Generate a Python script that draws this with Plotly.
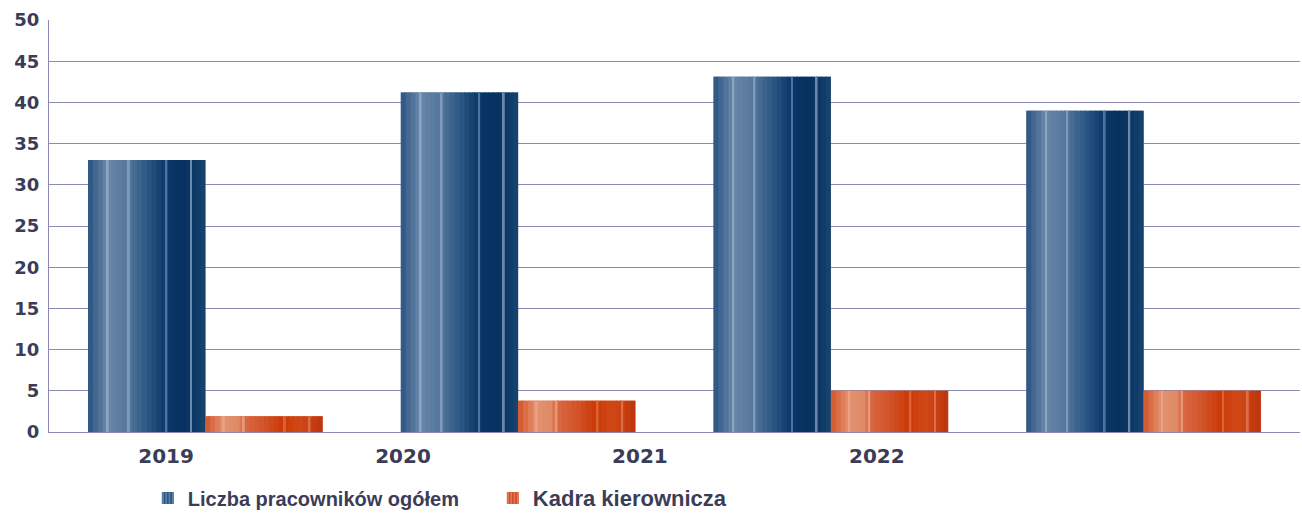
import plotly.graph_objects as go

# ---- data ----
years = ["2019", "2020", "2021", "2022"]
group_pos = [0, 1, 2, 3]
total_staff = [33.0, 41.2, 43.1, 39.0]      # Liczba pracowników ogółem
management = [1.9, 3.8, 5.0, 5.0]          # Kadra kierownicza
series_names = ["Liczba pracowników ogółem", "Kadra kierownicza"]

# ---- style ----
TICK_FONT = "DejaVu Sans"
LEG_FONT = "Liberation Sans"
TXT = "#3b3d58"
GRID = "#8a8cb5"
BAR_W = 0.375
N_SLICES = 24

blue_keys = [(0.0, "#2b5381"), (0.16, "#6886a8"), (0.33, "#56789c"), (0.50, "#2c5885"),
             (0.66, "#0a3868"), (0.80, "#05305f"), (0.95, "#113d6a"), (1.0, "#1b4670")]
blue_stripes = [(0.16, "#93abc6"), (0.34, "#87a1bf"), (0.66, "#5b7ea4"), (0.87, "#7d98b8")]
orange_keys = [(0.0, "#d2552a"), (0.15, "#e3916f"), (0.30, "#df8a66"), (0.32, "#d96a44"),
               (0.50, "#d2532a"), (0.66, "#cb3a08"), (0.80, "#d04816"), (0.95, "#c43a10"),
               (1.0, "#b8360f")]
orange_stripes = [(0.15, "#eba588"), (0.32, "#e8a07f"), (0.67, "#dd6a40"), (0.88, "#e07850")]


def hex2rgb(h):
    h = h.lstrip("#")
    return tuple(int(h[i:i + 2], 16) for i in (0, 2, 4))


def interp(keys, t):
    for (t0, c0), (t1, c1) in zip(keys[:-1], keys[1:]):
        if t0 <= t <= t1:
            a = (t - t0) / (t1 - t0) if t1 > t0 else 0
            r0, r1 = hex2rgb(c0), hex2rgb(c1)
            return "rgb(%d,%d,%d)" % tuple(round(r0[k] + (r1[k] - r0[k]) * a) for k in range(3))
    return keys[-1][1]


fig = go.Figure()

# legend entries / hover carriers (drawn first, covered by the shaded slices)
fig.add_trace(go.Bar(x=group_pos, y=total_staff, width=BAR_W, offset=-BAR_W, name=series_names[0],
                     marker=dict(color="#2b5785", line=dict(width=0),
                                 pattern=dict(shape="|", bgcolor="#2b5785", fgcolor="#a9bfd8",
                                              size=4, solidity=0.4))))
fig.add_trace(go.Bar(x=group_pos, y=management, width=BAR_W, offset=0.0,
                     name="<span style='font-size:22px'>%s</span>" % series_names[1],
                     hovertemplate="%{y}<extra>" + series_names[1] + "</extra>",
                     marker=dict(color="#d3502a", line=dict(width=0),
                                 pattern=dict(shape="|", bgcolor="#d3502a", fgcolor="#f0b095",
                                              size=4, solidity=0.4))))


def add_shaded_bar(values, start_offset, keys, stripes, name):
    sw = BAR_W / N_SLICES
    for i in range(N_SLICES):
        t = (i + 0.5) / N_SLICES
        w = sw * 1.2 if i < N_SLICES - 1 else sw
        fig.add_trace(go.Bar(
            x=group_pos, y=values, width=w, offset=start_offset + i * sw,
            marker=dict(color=interp(keys, t), line=dict(width=0)),
            showlegend=False, name=name, hoverinfo="skip"))
    for t, c in stripes:
        fig.add_trace(go.Bar(
            x=group_pos, y=values, width=0.006, offset=start_offset + t * BAR_W,
            marker=dict(color=c, line=dict(width=0)), opacity=0.85,
            showlegend=False, name=name, hoverinfo="skip"))


add_shaded_bar(total_staff, -BAR_W, blue_keys, blue_stripes, series_names[0])
add_shaded_bar(management, 0.0, orange_keys, orange_stripes, series_names[1])

# secondary axis carrying the year labels (as in the original layout)
fig.add_trace(go.Scatter(x=group_pos, y=[None] * len(group_pos), xaxis="x2", mode="markers",
                         marker=dict(opacity=0), showlegend=False, hoverinfo="skip"))

fig.update_layout(
    width=1302, height=515,
    margin=dict(l=49, r=2, t=20, b=83, autoexpand=False),
    paper_bgcolor="white", plot_bgcolor="white",
    barmode="overlay",
    font=dict(family=LEG_FONT, color=TXT),
    xaxis=dict(range=[-0.5, 3.5], showticklabels=False, showgrid=False, zeroline=False,
               showline=True, linecolor=GRID, linewidth=1, ticks="", automargin=False),
    xaxis2=dict(overlaying="x", anchor="y", side="bottom", range=[-0.494, 4.786],
                tickmode="array", tickvals=group_pos, ticktext=years,
                showgrid=False, zeroline=False, showline=False, ticks="",
                ticklabelstandoff=10, automargin=False,
                tickfont=dict(family=TICK_FONT, size=20, color=TXT, weight="bold")),
    yaxis=dict(range=[0, 50], dtick=5, showgrid=True, gridcolor=GRID, gridwidth=1,
               zeroline=False, showline=True, linecolor=GRID, linewidth=1, ticks="",
               ticklabelstandoff=5, automargin=False,
               tickfont=dict(family=TICK_FONT, size=18, color=TXT, weight="bold")),
    legend=dict(orientation="h", x=0.079, y=-0.16, xanchor="left", yanchor="middle",
                font=dict(family=LEG_FONT, size=20, color=TXT, weight="bold"),
                entrywidth=300, entrywidthmode="pixels",
                traceorder="normal", bgcolor="rgba(0,0,0,0)"),
    showlegend=True,
)

fig.write_html("out.html", config={"displayModeBar": False},
               post_script="document.body.style.margin='0';document.documentElement.style.overflow='hidden';")
